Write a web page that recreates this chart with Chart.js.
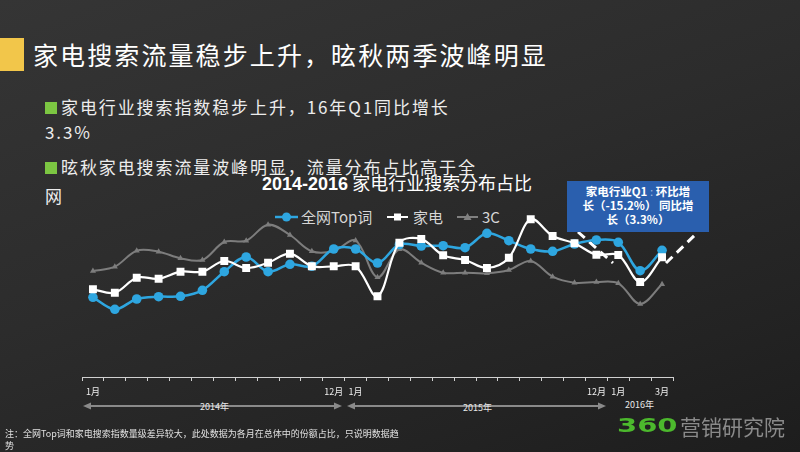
<!DOCTYPE html>
<html><head><meta charset="utf-8">
<script src="https://cdn.jsdelivr.net/npm/chart.js@4.4.1/dist/chart.umd.min.js"></script>
<style>
html,body{margin:0;padding:0;}
body{width:800px;height:452px;overflow:hidden;position:relative;
 background:linear-gradient(160deg,#353535 0%,#2c2c2c 45%,#232323 80%,#1d1d1d 100%);
 font-family:"Noto Sans CJK SC","Noto Sans",sans-serif;color:#fff;}
.abs{position:absolute;white-space:nowrap;}
#ybar{left:0;width:24px;height:33px;top:38px;background:#f2c64a;}
#title{left:33px;top:37px;font-size:25px;line-height:34px;letter-spacing:2.1px;color:#fff;}
.bl{font-size:17px;line-height:24px;letter-spacing:1.9px;color:#ececec;}
.sq{display:inline-block;width:12px;height:12px;background:#7cc642;margin-right:4px;vertical-align:0px;}
#ctitle{left:262px;top:170px;font-size:18px;line-height:24px;color:#fff;}
#ctitle b{font-family:"Liberation Sans",Arial,sans-serif;font-weight:bold;}
.lg{font-size:15px;line-height:20px;color:#d6d6d6;top:207px;}
#box{left:567px;top:181px;width:142px;height:51px;background:#2a5fae;color:#fff;font-size:11.5px;font-weight:bold;line-height:14px;text-align:center;padding-top:3px;box-sizing:border-box;}
.yr{font-size:9px;color:#e8e8e8;line-height:10px;}
#note{left:5px;top:428px;font-size:9px;line-height:12px;color:#e0e0e0;}
#logo3{left:617px;top:414px;font-family:"DejaVu Sans",sans-serif;font-weight:bold;font-size:20px;line-height:22px;color:#4cb82d;transform:scaleX(1.45);transform-origin:left center;}
#logoT{left:680px;top:413px;font-size:21px;line-height:26px;color:#8a8a8a;}
canvas{position:absolute;left:0;top:0;}
svg{position:absolute;left:0;top:0;}
</style></head>
<body>
<div id="ybar" class="abs"></div>
<div id="title" class="abs">家电搜索流量稳步上升，昡秋两季波峰明显</div>
<div class="abs bl" style="left:45px;top:95px;"><span class="sq"></span>家电行业搜索指数稳步上升，16年Q1同比增长</div>
<div class="abs bl" style="left:45px;top:120px;">3.3%</div>
<div class="abs bl" style="left:45px;top:155px;"><span class="sq"></span>昡秋家电搜索流量波峰明显，流量分布占比高于全</div>
<div class="abs bl" style="left:45px;top:184px;">网</div>

<div id="ctitle" class="abs"><b>2014-2016</b> 家电行业搜索分布占比</div>

<svg width="800" height="452">
 <line x1="275" y1="217" x2="298" y2="217" stroke="#2ea6e0" stroke-width="2.5"/>
 <circle cx="286.5" cy="217" r="4.5" fill="#2ea6e0"/>
 <line x1="387" y1="217" x2="408" y2="217" stroke="#ffffff" stroke-width="2"/>
 <rect x="394" y="213.5" width="7" height="7" fill="#ffffff"/>
 <line x1="457" y1="217" x2="478" y2="217" stroke="#808080" stroke-width="2"/>
 <polygon points="467.5,213 471.5,220 463.5,220" fill="#808080"/>
 <line x1="88" y1="406" x2="337" y2="406" stroke="#8a8a8a" stroke-width="2"/>
 <polygon points="83,406 91,402.5 91,409.5" fill="#8a8a8a"/>
 <polygon points="342,406 334,402.5 334,409.5" fill="#8a8a8a"/>
 <line x1="352" y1="406" x2="601" y2="406" stroke="#8a8a8a" stroke-width="2"/>
 <polygon points="347,406 355,402.5 355,409.5" fill="#8a8a8a"/>
 <polygon points="606,406 598,402.5 598,409.5" fill="#8a8a8a"/>
 <line x1="578" y1="232" x2="613" y2="263" stroke="#ffffff" stroke-width="3" stroke-dasharray="9,6"/>
 <line x1="666" y1="263" x2="698" y2="232" stroke="#ffffff" stroke-width="3" stroke-dasharray="9,6"/>
</svg>
<div class="abs lg" style="left:301px;">全网Top词</div>
<div class="abs lg" style="left:413px;">家电</div>
<div class="abs lg" style="left:482px;">3C</div>

<div class="abs yr" style="left:200px;top:402px;">2014年</div>
<div class="abs yr" style="left:463px;top:403px;">2015年</div>
<div class="abs yr" style="left:625px;top:400px;">2016年</div>

<canvas id="c" width="800" height="452"></canvas>

<div id="box" class="abs">家电行业Q1 <span style="font-weight:normal;color:#9fb8de">:</span> 环比增<br>长（-15.2%） 同比增<br>长（3.3%）</div>

<div id="note" class="abs">注：全网Top词和家电搜索指数量级差异较大，此处数据为各月在总体中的份额占比，只说明数据趋<br>势</div>
<div id="logo3" class="abs">360</div>
<div id="logoT" class="abs">营销研究院</div>

<script>
// months 2014-01 .. 2016-03
const months = ["2014-01","2014-02","2014-03","2014-04","2014-05","2014-06","2014-07","2014-08","2014-09","2014-10","2014-11","2014-12",
 "2015-01","2015-02","2015-03","2015-04","2015-05","2015-06","2015-07","2015-08","2015-09","2015-10","2015-11","2015-12",
 "2016-01","2016-02","2016-03"];
const tickLabels = ["1月","","","","","","","","","","","12月","1月","","","","","","","","","","","12月","1月","","3月"];
const topWords = [79.7,67.7,78,80.3,80.7,86.7,105.3,120,105.3,112.7,110.7,128,128,114,132.5,131,131.3,129.3,143.7,136.3,128,125.7,133,137,134.7,106.3,126.7];
const appliances = [87.7,84.3,99.3,98.3,105.3,105.3,116,109,114.3,123.3,110.7,110.7,110.7,80.7,134.3,138,121.7,117,109,119.3,157.7,141,133.7,122.3,122,95,119.7];
const threeC = [106,110.3,126.3,125.3,118.7,117,135,136.3,152.3,142,125.7,126,136.5,99.7,127.7,114.3,104.3,104.3,103.7,107,116,100.3,94.3,95,93.7,73,92.7];
const seriesNames = ["全网Top词","家电","3C"];

new Chart(document.getElementById('c'), {
  type: 'line',
  data: {
    labels: months,
    datasets: [
      {label: seriesNames[1], data: appliances, borderColor:'#ffffff', backgroundColor:'#ffffff', borderWidth:2.2,
       pointStyle:'rect', pointRadius:5.6, pointBorderWidth:0, tension:0.35, order:1},
      {label: seriesNames[0], data: topWords, borderColor:'#2ea6e0', backgroundColor:'#2ea6e0', borderWidth:2.5,
       pointStyle:'circle', pointRadius:4.8, pointBorderWidth:0, tension:0.35, order:2},
      {label: seriesNames[2], data: threeC, borderColor:'#7d7d7d', backgroundColor:'#7d7d7d', borderWidth:2,
       pointStyle:'triangle', pointRadius:3.5, pointBorderWidth:0, tension:0.35, order:3}
    ]
  },
  options: {
    responsive:false, animation:false,
    layout:{padding:{left:82, right:127, top:197, bottom:45}},
    plugins:{legend:{display:false}, title:{display:false}, tooltip:{enabled:false}},
    scales:{
      x:{
        offset:true,
        grid:{offset:true, drawOnChartArea:false, drawTicks:true, tickLength:4, color:'#d0d0d0', lineWidth:1},
        border:{display:true, color:'#d0d0d0', width:1},
        ticks:{autoSkip:false, maxRotation:0, padding:5, color:'#ededed',
               font:{size:9, family:'"Noto Sans CJK SC", sans-serif'},
               callback:(v,i)=>tickLabels[i]},
        afterFit:(s)=>{s.height=30;}
      },
      y:{display:false, min:0, max:180}
    }
  }
});
</script>
</body></html>
